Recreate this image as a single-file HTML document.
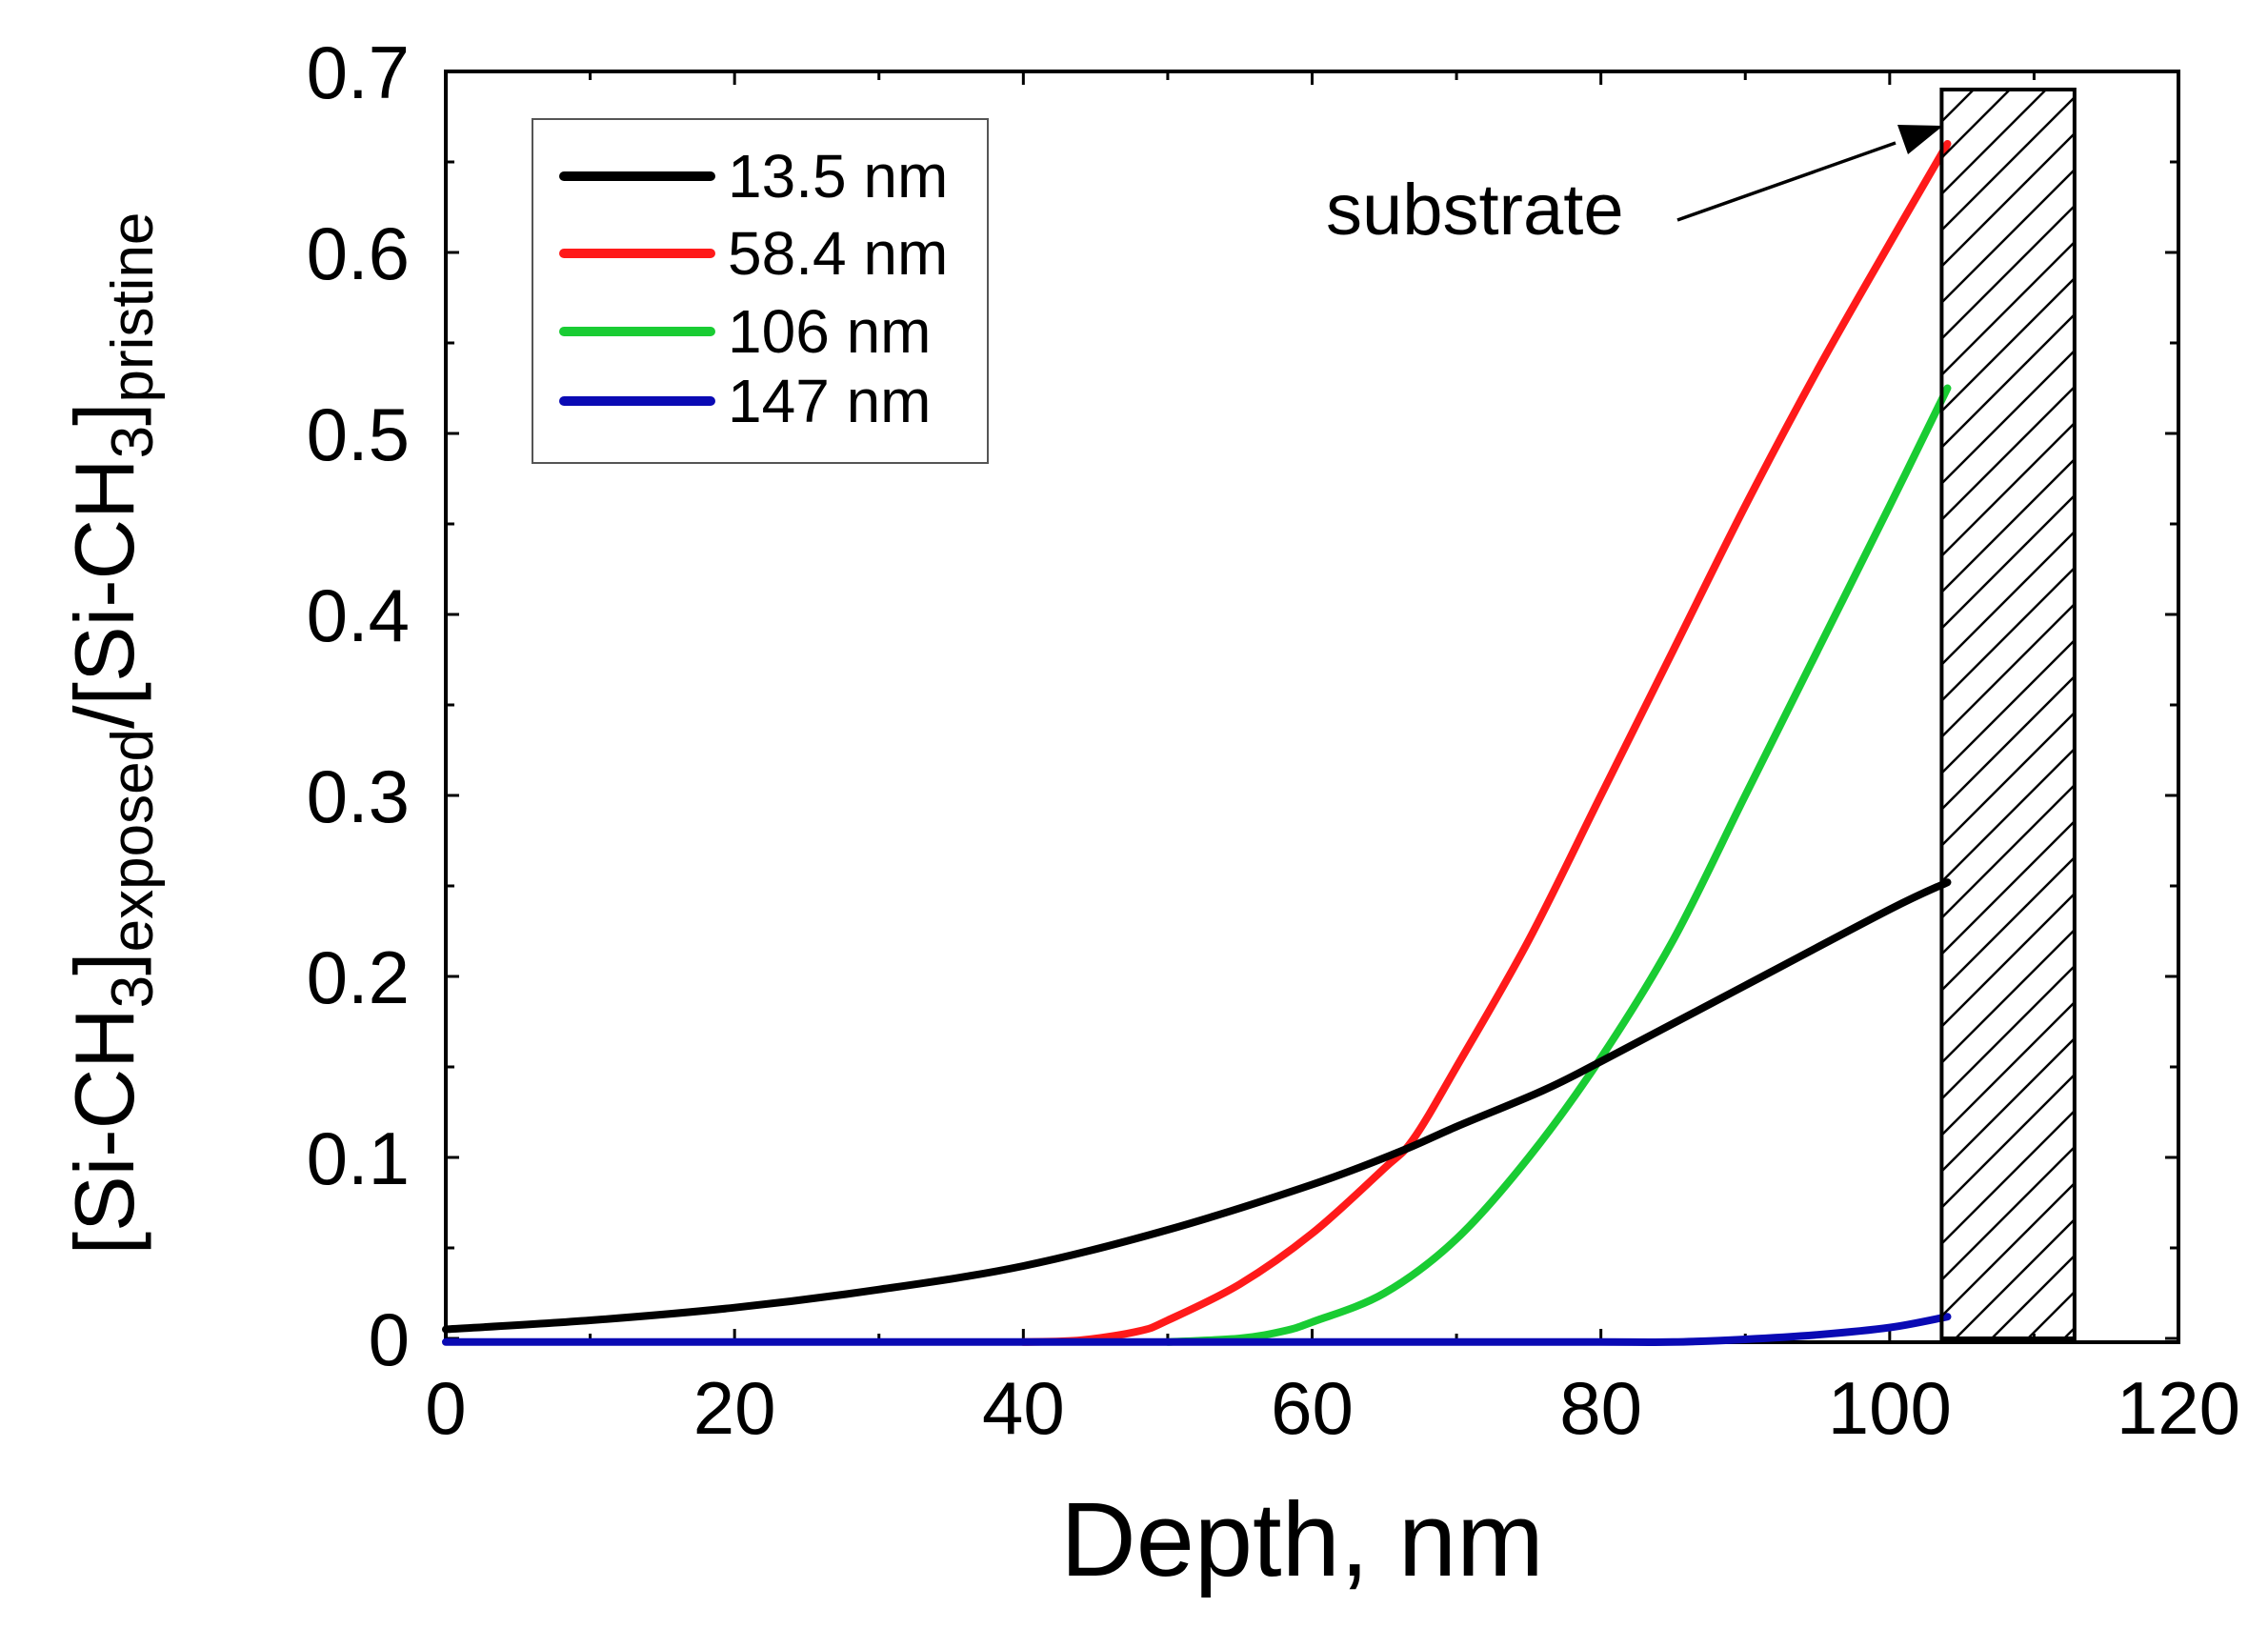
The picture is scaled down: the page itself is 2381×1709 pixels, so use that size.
<!DOCTYPE html>
<html><head><meta charset="utf-8">
<style>
html,body{margin:0;padding:0;background:#fff;}
svg{display:block;font-family:"Liberation Sans",sans-serif;}
</style></head>
<body>
<svg id="chart" width="2381" height="1709" viewBox="0 0 2381 1709">
<defs>
<pattern id="hatch" patternUnits="userSpaceOnUse" width="38" height="38">
<line x1="0" y1="38" x2="38" y2="0" stroke="#000" stroke-width="2.5"/>
<line x1="-19" y1="19" x2="19" y2="-19" stroke="#000" stroke-width="2.5"/>
<line x1="19" y1="57" x2="57" y2="19" stroke="#000" stroke-width="2.5"/>
</pattern>
</defs>
<g id="axes"></g>
<g id="series"></g>
<g id="deco"></g>
</svg>
<script>
const xTicks=[0,20,40,60,80,100,120];
const yTicks=[0,0.1,0.2,0.3,0.4,0.5,0.6,0.7];
const yTickLabels=["0","0.1","0.2","0.3","0.4","0.5","0.6","0.7"];
const seriesNames=["13.5 nm","58.4 nm","106 nm","147 nm"];
const seriesColors=["#000000","#ff1a1a","#19cc33","#0a0ab4"];
const blackX=[0,10,20,30,40,50,60,66,70,76,80,90,100,104];
const blackY=[0.005,0.01,0.017,0.027,0.04,0.06,0.085,0.103,0.117,0.137,0.153,0.195,0.237,0.252];
const redX=[40,44,48,50,55,60,65,67,70,75,80,85,90,95,100,104];
const redY=[-0.002,-0.001,0.004,0.01,0.03,0.058,0.094,0.11,0.15,0.22,0.30,0.38,0.46,0.535,0.605,0.66];
const greenX=[50,55,58,60,65,70,75,80,85,90,95,100,104];
const greenY=[-0.002,0,0.004,0.009,0.025,0.055,0.1,0.155,0.22,0.3,0.38,0.46,0.525];
const blueX=[0,20,40,60,80,85,90,95,100,104];
const blueY=[-0.002,-0.002,-0.002,-0.002,-0.002,-0.002,-0.0005,0.002,0.006,0.012];
const substrateRange=[103.6,112.8];
const substrateTop=0.69;

const NS="http://www.w3.org/2000/svg";
const X0=468,X1=2287,Y0=1405,Y1=75;
function xs(v){return X0+v/120*(X1-X0);}
function ys(v){return Y0-v/0.7*(Y0-Y1);}
function mk(tag,attrs,parent){const e=document.createElementNS(NS,tag);for(const k in attrs)e.setAttribute(k,attrs[k]);parent.appendChild(e);return e;}
const axes=document.getElementById('axes'),series=document.getElementById('series'),deco=document.getElementById('deco');

const sets=[[blackX,blackY],[redX,redY],[greenX,greenY],[blueX,blueY]];
function smoothPath(xa,ya){
  const p=xa.map((x,i)=>[xs(x),ys(ya[i])]);
  let d=`M${p[0][0]},${p[0][1]}`;
  for(let i=0;i<p.length-1;i++){
    const p0=p[Math.max(0,i-1)],p1=p[i],p2=p[i+1],p3=p[Math.min(p.length-1,i+2)];
    const c1=[p1[0]+(p2[0]-p0[0])/6,p1[1]+(p2[1]-p0[1])/6];
    const c2=[p2[0]-(p3[0]-p1[0])/6,p2[1]-(p3[1]-p1[1])/6];
    d+=` C${c1[0]},${c1[1]} ${c2[0]},${c2[1]} ${p2[0]},${p2[1]}`;
  }
  return d;
}
const bl=mk('line',{x1:X0,y1:Y0+4,x2:X1,y2:Y0+4,stroke:'#000','stroke-width':4},axes);


[1,2,0,3].forEach(i=>{
  const pth=mk('path',{d:smoothPath(sets[i][0],sets[i][1]),fill:'none',stroke:seriesColors[i],'stroke-width':8,'stroke-linecap':'round'},series);
  
  
});

const fr=mk('rect',{x:X0,y:Y1,width:X1-X0,height:Y0+4-Y1,fill:'none',stroke:'#000','stroke-width':4},axes);


for(let v=0;v<=120;v+=10){
  const L=(v%20===0)?14:9;
  mk('line',{x1:xs(v),y1:Y0+4,x2:xs(v),y2:Y0+4-L,stroke:'#000','stroke-width':3},axes);
  mk('line',{x1:xs(v),y1:Y1,x2:xs(v),y2:Y1+L,stroke:'#000','stroke-width':3},axes);
}
for(let k=0;k<=14;k++){
  const v=k*0.05,L=(k%2===0)?14:9;
  mk('line',{x1:X0,y1:ys(v),x2:X0+L,y2:ys(v),stroke:'#000','stroke-width':3},axes);
  mk('line',{x1:X1,y1:ys(v),x2:X1-L,y2:ys(v),stroke:'#000','stroke-width':3},axes);
}
xTicks.forEach(v=>{
  const t=mk('text',{x:xs(v),y:1505,'font-size':78,'text-anchor':'middle'},axes);
  t.textContent=String(v);
  
  
});
yTicks.forEach((v,i)=>{
  const t=mk('text',{x:430,y:ys(v)+28,'font-size':78,'text-anchor':'end'},axes);
  t.textContent=yTickLabels[i];
  
  
});
const xt=mk('text',{x:1367,y:1654,'font-size':110,'text-anchor':'middle'},axes);
xt.textContent='Depth, nm';


const yt=mk('text',{x:0,y:0,'font-size':88,'text-anchor':'middle',transform:'translate(140,770) rotate(-90)'},axes);


yt.innerHTML='[Si-CH<tspan font-size="62" dy="20">3</tspan><tspan dy="-20">]</tspan><tspan font-size="62" dy="20">exposed</tspan><tspan dy="-20">/[Si-CH</tspan><tspan font-size="62" dy="20">3</tspan><tspan dy="-20">]</tspan><tspan font-size="62" dy="20">pristine</tspan>';

const sb=mk('rect',{x:xs(substrateRange[0]),y:ys(substrateTop),width:xs(substrateRange[1])-xs(substrateRange[0]),height:ys(0)-ys(substrateTop),fill:'url(#hatch)',stroke:'#000','stroke-width':4},deco);


const st=mk('text',{x:1392,y:246,'font-size':76},deco);
st.textContent='substrate';


const al=mk('line',{x1:1761,y1:231,x2:1990,y2:150,stroke:'#000','stroke-width':3.5},deco);


mk('polygon',{points:'2040,132 1992,131 2003,162',fill:'#000'},deco);

const lg=mk('g',{},deco);


mk('rect',{x:559,y:125,width:478,height:361,fill:'#fff',stroke:'#555','stroke-width':2},lg);
const ly=[185,266,348,421];
seriesNames.forEach((n,i)=>{
  const g=mk('g',{},lg);
  
  
  mk('line',{x1:592,y1:ly[i],x2:746,y2:ly[i],stroke:seriesColors[i],'stroke-width':10,'stroke-linecap':'round'},g);
  const t=mk('text',{x:764,y:ly[i]+22,'font-size':64},g);
  t.textContent=n;
});
</script>
</body></html>
